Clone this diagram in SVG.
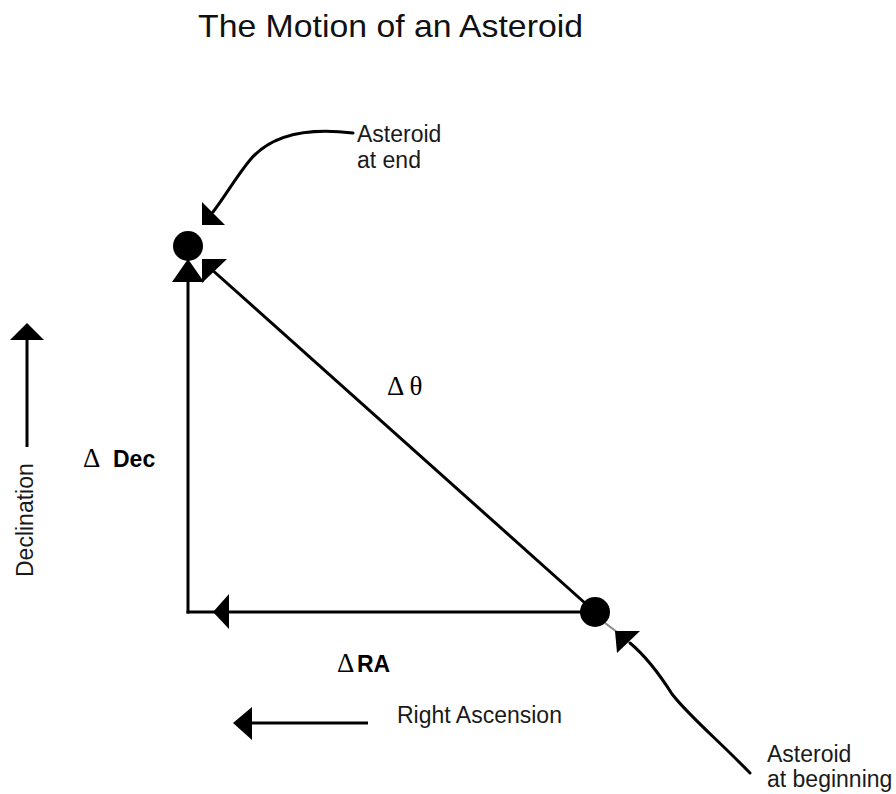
<svg xmlns="http://www.w3.org/2000/svg" width="896" height="794" viewBox="0 0 896 794">
<style>
  .ln { stroke:#000; stroke-width:3; fill:none; }
  .crv { stroke:#000; stroke-width:3; fill:none; stroke-linecap:round; stroke-linejoin:round; }
  .hd { fill:#000; stroke:none; }
  .dot { fill:#000; }
  .lbl { font-family:"Liberation Sans", Arial, sans-serif; font-size:23px; fill:#1a1a1a; }
  .bold { font-family:"Liberation Sans", Arial, sans-serif; font-size:23px; font-weight:bold; fill:#000; }
  .sym { font-family:"Liberation Serif", "Times New Roman", serif; font-size:27px; fill:#000; }
  .title { font-family:"Liberation Sans", Arial, sans-serif; font-size:32px; fill:#111; }
</style>
<rect width="896" height="794" fill="#fff"/>
<text class="title" x="198" y="37" textLength="385" lengthAdjust="spacingAndGlyphs">The Motion of an Asteroid</text>

<g id="connectors">
  <!-- Delta Dec vertical -->
  <line class="ln" x1="188" y1="280" x2="188" y2="613.5"/>
  <polygon class="hd" points="188,259 172,282 204,282"/>
  <!-- Delta RA horizontal -->
  <line class="ln" x1="186.5" y1="612" x2="595" y2="612"/>
  <polygon class="hd" points="213,612 229,594 229,629"/>
  <!-- Delta theta diagonal -->
  <line class="ln" x1="595" y1="612" x2="210" y2="268"/>
  <polygon class="hd" points="202,259 227,259 202,283"/>
  <!-- pointer to end -->
  <path class="crv" d="M 353,133 C 305,127 270,136 250,160 C 236,177 226,195 213,212"/>
  <polygon class="hd" points="202,202 202,225 225,225"/>
  <!-- pointer to beginning -->
  <line x1="605" y1="623" x2="617" y2="632" stroke="#888" stroke-width="2"/>
  <path class="crv" d="M 630,643 C 648,658 660,675 672,694 C 688,715 718,740 750,773"/>
  <polygon class="hd" points="615,631 640,631 617,653"/>
  <!-- Declination axis arrow -->
  <line class="ln" x1="27" y1="335" x2="27" y2="447"/>
  <polygon class="hd" points="27,323 10,340 44,340"/>
  <!-- Right Ascension axis arrow -->
  <line class="ln" x1="248" y1="723" x2="368" y2="723"/>
  <polygon class="hd" points="233,723 252,707 252,740"/>
</g>

<g id="asteroid-end">
  <circle class="dot" cx="188" cy="246" r="15"/>
</g>
<g id="asteroid-begin">
  <circle class="dot" cx="595" cy="612" r="15"/>
</g>

<g id="label-end">
  <text class="lbl" x="357" y="142">Asteroid</text>
  <text class="lbl" x="357" y="168">at end</text>
</g>
<g id="label-begin">
  <text class="lbl" x="767" y="762">Asteroid</text>
  <text class="lbl" x="767" y="787">at beginning</text>
</g>
<g id="label-dtheta">
  <text class="sym" x="387" y="395">Δ θ</text>
</g>
<g id="label-ddec">
  <text class="sym" x="83" y="467">Δ</text>
  <text class="bold" x="113" y="467">Dec</text>
</g>
<g id="label-dra">
  <text class="sym" x="337" y="672">Δ</text>
  <text class="bold" x="357" y="672">RA</text>
</g>
<g id="label-declination">
  <text class="lbl" transform="translate(33,577) rotate(-90)">Declination</text>
</g>
<g id="label-ra">
  <text class="lbl" x="397" y="723">Right Ascension</text>
</g>
</svg>
